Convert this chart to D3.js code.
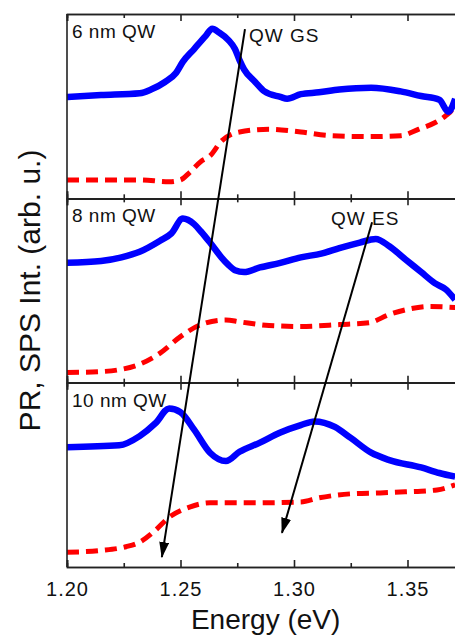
<!DOCTYPE html>
<html>
<head>
<meta charset="utf-8">
<script src="https://cdn.jsdelivr.net/npm/d3@7"></script>
<style>
  body { margin: 0; background: #fff; }
  text { font-family: "Liberation Sans", Arial, sans-serif; fill: #111; }
</style>
</head>
<body>
<div id="app"></div>
<script>
// energy (eV), intensity (arb. u., 0..1 of panel height)
const panelNames = ['6 nm QW', '8 nm QW', '10 nm QW']

const pr6 = [[1.200,.55],[1.215,.56],[1.232,.57],[1.237,.59],[1.243,.63],[1.248,.68],[1.251,.74],[1.256,.81],[1.261,.88],[1.264,.92],[1.267,.90],[1.271,.86],[1.274,.81],[1.276,.75],[1.278,.70],[1.283,.63],[1.287,.58],[1.294,.55],[1.297,.54],[1.303,.565],[1.311,.575],[1.320,.59],[1.334,.60],[1.347,.58],[1.356,.555],[1.364,.535],[1.368,.47],[1.371,.54]]
const sps6 = [[1.200,.10],[1.215,.10],[1.232,.10],[1.245,.09],[1.250,.10],[1.254,.14],[1.259,.20],[1.263,.23],[1.268,.31],[1.276,.36],[1.289,.375],[1.303,.36],[1.316,.34],[1.333,.335],[1.347,.34],[1.355,.375],[1.362,.41],[1.367,.45],[1.370,.49],[1.371,.53]]

const pr8 = [[1.200,.65],[1.215,.66],[1.224,.68],[1.232,.71],[1.241,.77],[1.246,.81],[1.251,.89],[1.256,.86],[1.259,.82],[1.263,.76],[1.268,.68],[1.271,.64],[1.274,.61],[1.278,.60],[1.285,.625],[1.294,.65],[1.303,.68],[1.312,.70],[1.320,.73],[1.329,.76],[1.336,.78],[1.342,.74],[1.349,.67],[1.356,.60],[1.362,.54],[1.367,.505],[1.371,.45]]
const sps8 = [[1.200,.055],[1.215,.06],[1.223,.07],[1.232,.10],[1.241,.16],[1.250,.25],[1.259,.315],[1.270,.34],[1.276,.33],[1.289,.31],[1.303,.305],[1.320,.315],[1.333,.325],[1.342,.37],[1.351,.40],[1.360,.413],[1.371,.408]]

const pr10 = [[1.200,.65],[1.223,.66],[1.232,.71],[1.239,.78],[1.245,.86],[1.250,.84],[1.256,.745],[1.263,.62],[1.270,.575],[1.276,.625],[1.285,.675],[1.294,.73],[1.303,.77],[1.309,.79],[1.318,.76],[1.325,.70],[1.334,.62],[1.342,.58],[1.356,.54],[1.364,.51],[1.371,.49]]
const sps10 = [[1.200,.08],[1.215,.09],[1.226,.11],[1.232,.135],[1.239,.20],[1.245,.27],[1.254,.325],[1.263,.348],[1.281,.348],[1.303,.353],[1.311,.375],[1.325,.397],[1.338,.402],[1.349,.408],[1.363,.418],[1.371,.446]]

const energyTicks = [1.20, 1.25, 1.30, 1.35]
const energyMinor = [1.225, 1.275, 1.325, 1.375]

// annotations: energy, panel index, value
const arrows = [
  { from: [1.2784, 0, .918], to: [1.2418, 2, .054] },
  { from: [1.3344, 1, .87], to: [1.2947, 2, .185] }
]
const notes = [
  { text: 'QW GS', at: [1.2802, 0, .848] },
  { text: 'QW ES', at: [1.3163, 1, .853] }
]

const W = 455, H = 636
const plotLeft = 67, plotTop = 14, plotBottom = 567
const panelH = (plotBottom - plotTop) / 3

const svg = d3.select('#app').append('svg')
  .attr('width', W).attr('height', H)

const x = d3.scaleLinear().domain([1.20, 1.375]).range([plotLeft, plotLeft + 113.5 * 3.5])

const yScales = panelNames.map((d, i) =>
  d3.scaleLinear().domain([0, 1]).range([plotTop + (i + 1) * panelH, plotTop + i * panelH]))

const line = (ys) => d3.line()
  .x(d => x(d[0]))
  .y(d => ys(d[1]))
  .curve(d3.curveMonotoneX)

const series = [[pr6, sps6], [pr8, sps8], [pr10, sps10]]

series.forEach(([pr, sps], i) => {
  const ys = yScales[i]
  const g = svg.append('g')

  g.append('path').datum(sps)
    .attr('d', line(ys))
    .attr('fill', 'none')
    .attr('stroke', '#ff0000')
    .attr('stroke-width', 5)
    .attr('stroke-dasharray', '12,7')

  g.append('path').datum(pr)
    .attr('d', line(ys))
    .attr('fill', 'none')
    .attr('stroke', '#0000ff')
    .attr('stroke-width', 6.5)
    .attr('stroke-linejoin', 'round')

  // ticks pointing into the panel, top and bottom
  const y0 = ys.range()[1], y1 = ys.range()[0]
  svg.append('g').attr('transform', `translate(0,${y0})`)
    .call(d3.axisBottom(x).tickValues(energyTicks).tickSize(7).tickFormat(''))
  svg.append('g').attr('transform', `translate(0,${y0})`)
    .call(d3.axisBottom(x).tickValues(energyMinor).tickSize(4).tickFormat(''))
  svg.append('g').attr('transform', `translate(0,${y1})`)
    .call(d3.axisTop(x).tickValues(energyTicks).tickSize(7).tickFormat(''))
  svg.append('g').attr('transform', `translate(0,${y1})`)
    .call(d3.axisTop(x).tickValues(energyMinor).tickSize(4).tickFormat(''))

  svg.append('text')
    .attr('x', x(1.2022))
    .attr('y', y0 + 24)
    .attr('font-size', 19)
    .attr('letter-spacing', 0.5)
    .text(panelNames[i])
})

// tick labels
const labelAxis = svg.append('g').attr('transform', `translate(0,${plotBottom})`)
  .call(d3.axisBottom(x).tickValues(energyTicks).tickSize(0).tickPadding(15).tickFormat(d3.format('.2f')))
labelAxis.selectAll('text').attr('font-size', 20).attr('letter-spacing', 1).attr('fill', '#111')

svg.selectAll('.domain').attr('stroke', '#222').attr('stroke-width', 1.6)
svg.selectAll('.tick line').attr('stroke', '#222').attr('stroke-width', 1.6)
labelAxis.select('.domain').remove()

// left spine
svg.append('line')
  .attr('x1', plotLeft).attr('x2', plotLeft)
  .attr('y1', plotTop).attr('y2', plotBottom)
  .attr('stroke', '#222').attr('stroke-width', 1.6)

// arrows
svg.append('defs').append('marker')
  .attr('id', 'head')
  .attr('viewBox', '0 0 16 10')
  .attr('refX', 15).attr('refY', 5)
  .attr('markerWidth', 16).attr('markerHeight', 10)
  .attr('markerUnits', 'userSpaceOnUse')
  .attr('orient', 'auto')
  .append('path').attr('d', 'M0,0L16,5L0,10Z').attr('fill', '#000')

const pt = (a) => [x(a[0]), yScales[a[1]](a[2])]
arrows.forEach(a => {
  const p0 = pt(a.from), p1 = pt(a.to)
  svg.append('line')
    .attr('x1', p0[0]).attr('y1', p0[1])
    .attr('x2', p1[0]).attr('y2', p1[1])
    .attr('stroke', '#000').attr('stroke-width', 2)
    .attr('marker-end', 'url(#head)')
})

notes.forEach(n => {
  const p = pt(n.at)
  svg.append('text')
    .attr('x', p[0]).attr('y', p[1])
    .attr('font-size', 19)
    .attr('letter-spacing', 1)
    .text(n.text)
})

// axis titles
svg.append('text')
  .attr('x', (x.range()[0] + x.range()[1]) / 2)
  .attr('y', 629)
  .attr('text-anchor', 'middle')
  .attr('font-size', 28)
  .text('Energy (eV)')

svg.append('text')
  .attr('transform', `translate(40,${(plotTop + plotBottom) / 2}) rotate(-90)`)
  .attr('text-anchor', 'middle')
  .attr('font-size', 30)
  .text('PR, SPS Int. (arb. u.)')
</script>
</body>
</html>
